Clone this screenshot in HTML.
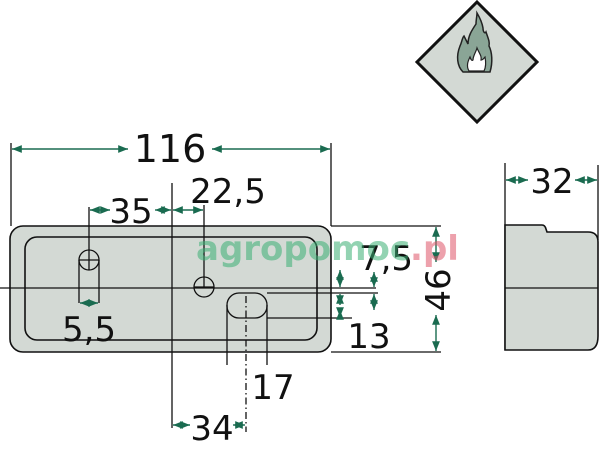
<!DOCTYPE html>
<html><head><meta charset="utf-8"><style>
html,body{margin:0;padding:0;background:#fff}
svg{display:block}
text{font-family:"DejaVu Sans","Liberation Sans",sans-serif;fill:#111}
</style></head><body>
<svg width="600" height="451" viewBox="0 0 600 451" xmlns="http://www.w3.org/2000/svg">
<defs>
<marker id="a" viewBox="0 0 10 10" refX="10" refY="5" markerWidth="7" markerHeight="7" orient="auto-start-reverse"><path d="M0,1 L10,5 L0,9 Z" fill="#1a6b50"/></marker>
</defs>
<!-- diamond -->
<polygon points="477,2 537,62 477,122 417,62" fill="#d3d9d4" stroke="#111" stroke-width="3"/>
<path d="M463,72 C457,66 456,56 460,46 C462,42 462,38 464,36 C466,40 467,42 468,44 C468,36 472,30 476,24 C476,20 477,16 477,13 C480,18 482,22 483,28 C483,32 485,34 486,32 C488,38 490,42 489,46 C492,52 493,62 490,72 Z" fill="#8aa596" stroke="#222" stroke-width="1.5"/>
<path d="M469,71 C466,66 468,61 470,57 C471,60 472,61 473,60 C473,56 476,52 477,48 C479,53 482,56 481,60 C483,60 484,58 485,57 C486,62 486,67 484,71 Z" fill="#fff" stroke="#222" stroke-width="1.2"/>
<!-- main body -->
<rect x="10" y="226" width="321" height="126" rx="13" fill="#d3d9d4" stroke="#111" stroke-width="1.6"/>
<rect x="25" y="237" width="292" height="103" rx="12" fill="none" stroke="#111" stroke-width="1.6"/>
<g stroke="#111" stroke-width="1.3" fill="none">
<line x1="11" y1="143" x2="11" y2="226"/><line x1="331" y1="143" x2="331" y2="226"/>
<line x1="89" y1="207" x2="89" y2="258"/>
<line x1="172" y1="183" x2="172" y2="428"/>
<line x1="204" y1="205" x2="204" y2="287"/>
<line x1="0" y1="288" x2="376" y2="288"/>
<line x1="267" y1="293" x2="378" y2="293"/>
<line x1="267" y1="318" x2="352" y2="318"/>
<line x1="331" y1="226" x2="441" y2="226"/><line x1="331" y1="352" x2="441" y2="352"/>
<line x1="227" y1="305" x2="227" y2="365"/><line x1="267" y1="305" x2="267" y2="365"/>
<line x1="246" y1="296" x2="246" y2="432" stroke-dasharray="7,3,1.5,3"/>
<circle cx="89" cy="260" r="10" fill="#d3d9d4"/>
<line x1="79" y1="260" x2="99" y2="260"/><line x1="89" y1="250" x2="89" y2="270"/>
<path d="M79,260 L79,303 M99,260 L99,303"/>
<circle cx="204" cy="287" r="10"/>
<line x1="194" y1="287" x2="214" y2="287"/>
<rect x="227" y="293" width="40" height="25" rx="12"/>
<line x1="505" y1="163" x2="505" y2="350"/><line x1="598" y1="165" x2="598" y2="240"/>
</g>
<!-- side view -->
<path d="M505,225 L542,225 Q545,225 546,229 L547,232 L588,232 Q598,232 598,242 L598,336 Q598,350 588,350 L505,350 Z" fill="#d3d9d4" stroke="#111" stroke-width="1.6"/>
<line x1="505" y1="288" x2="598" y2="288" stroke="#111" stroke-width="1.3"/>
<!-- dims -->
<g stroke="#1a6b50" stroke-width="1.4" marker-start="url(#a)" marker-end="url(#a)" fill="none">
<line x1="12" y1="149" x2="128" y2="149" marker-end=""/>
<line x1="212" y1="149" x2="330" y2="149" marker-start=""/>
<line x1="90" y1="210" x2="110" y2="210" marker-end=""/>
<line x1="155" y1="210" x2="171" y2="210" marker-start=""/>
<line x1="173" y1="210" x2="203" y2="210"/>
<line x1="80" y1="303" x2="98" y2="303"/>
<line x1="173" y1="425" x2="190" y2="425" marker-end=""/>
<line x1="233" y1="425" x2="245" y2="425" marker-start=""/>
<line x1="340" y1="270" x2="340" y2="287" marker-start=""/>
<line x1="340" y1="310" x2="340" y2="317" marker-end=""/>
<line x1="340" y1="294" x2="340" y2="305" marker-end=""/>
<line x1="374" y1="272" x2="374" y2="287" marker-start=""/>
<line x1="374" y1="310" x2="374" y2="294" marker-start=""/>
<line x1="436" y1="227" x2="436" y2="262" marker-end=""/>
<line x1="436" y1="315" x2="436" y2="351" marker-start=""/>
<line x1="506" y1="180" x2="528" y2="180" marker-end=""/>
<line x1="575" y1="180" x2="597" y2="180" marker-start=""/>
</g>
<text x="170" y="162" font-size="38" text-anchor="middle">116</text>
<text x="131" y="223" font-size="34" text-anchor="middle">35</text>
<text x="228" y="203" font-size="34" text-anchor="middle">22,5</text>
<text x="89" y="341" font-size="34" text-anchor="middle">5,5</text>
<text x="212" y="440" font-size="34" text-anchor="middle">34</text>
<text x="273" y="399" font-size="34" text-anchor="middle">17</text>
<text x="386" y="270" font-size="34" text-anchor="middle">7,5</text>
<text x="369" y="348" font-size="34" text-anchor="middle">13</text>
<text x="552" y="193" font-size="34" text-anchor="middle">32</text>
<text transform="translate(450,290) rotate(-90)" font-size="34" text-anchor="middle">46</text>
<text x="196" y="260" font-size="34" font-weight="bold" style="fill:#3bb075;opacity:0.55">agropomoc<tspan style="fill:#e0566a">.pl</tspan></text>
</svg>
</body></html>
